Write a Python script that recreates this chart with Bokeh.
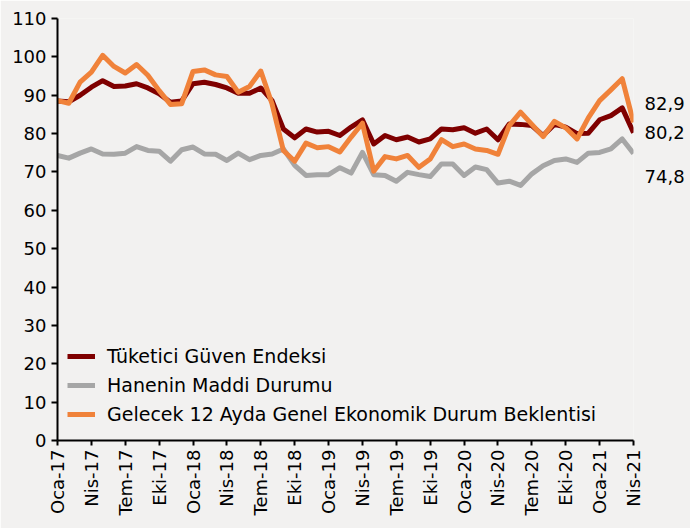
import math
from bokeh.plotting import figure
from bokeh.models import ColumnDataSource, FixedTicker, Range1d, Legend, LegendItem, LinearAxis
from bokeh.embed import file_html
from bokeh.resources import INLINE

months_tr = ["Oca", "Şub", "Mar", "Nis", "May", "Haz", "Tem", "Ağu", "Eyl", "Eki", "Kas", "Ara"]
periods = [f"{months_tr[i % 12]}-{17 + i // 12}" for i in range(52)]

tuketici = [88.5, 88.3, 90.0, 92.1, 93.8, 92.3, 92.4, 93.0, 91.9, 90.4, 88.2, 88.5,
            93.0, 93.4, 92.8, 91.9, 90.5, 90.5, 91.9, 88.6, 81.2, 78.9, 81.2, 80.4,
            80.6, 79.5, 81.7, 83.6, 77.3, 79.5, 78.4, 79.1, 77.8, 78.6, 81.2, 81.0,
            81.5, 80.1, 81.2, 78.4, 82.5, 82.4, 82.1, 79.5, 82.4, 81.7, 80.0, 80.1,
            83.6, 84.7, 86.7, 80.2]
hanenin = [74.3, 73.6, 74.9, 76.0, 74.7, 74.6, 74.9, 76.6, 75.6, 75.4, 72.8, 75.8,
           76.5, 74.7, 74.6, 73.0, 74.9, 73.2, 74.3, 74.7, 76.0, 71.7, 69.1, 69.3,
           69.3, 71.1, 69.7, 75.1, 69.3, 69.1, 67.6, 69.9, 69.3, 68.8, 72.1, 72.1,
           69.1, 71.3, 70.6, 67.1, 67.6, 66.5, 69.5, 71.6, 73.0, 73.4, 72.5, 74.9,
           75.1, 76.0, 78.6, 74.8]
gelecek = [88.6, 87.9, 93.4, 96.0, 100.4, 97.5, 95.8, 98.0, 95.2, 91.2, 87.6, 87.8,
           96.2, 96.6, 95.3, 94.9, 90.8, 92.3, 96.3, 87.7, 75.6, 72.8, 77.5, 76.3,
           76.6, 75.2, 79.1, 82.7, 70.2, 74.0, 73.4, 74.3, 71.2, 73.4, 78.4, 76.6,
           77.3, 76.0, 75.6, 74.6, 82.1, 85.6, 82.4, 79.2, 83.2, 81.5, 78.6, 84.1,
           88.6, 91.4, 94.3, 82.9]

series_names = ["Tüketici Güven Endeksi", "Hanenin Maddi Durumu",
                "Gelecek 12 Ayda Genel Ekonomik Durum Beklentisi"]
colors = ["#7F0000", "#A6A6A6", "#F0823A"]
y_ticks = list(range(0, 111, 10))

x = list(range(len(periods)))
src = ColumnDataSource(dict(x=x, t=tuketici, h=hanenin, g=gelecek))

BG = "#F2F1F0"
FONT = "DejaVu Sans"

p = figure(width=690, height=528, output_backend="svg", toolbar_location=None,
           x_range=Range1d(0, len(periods) - 1), y_range=Range1d(0, 110),
           min_border_left=57, min_border_right=57, min_border_top=18, min_border_bottom=88,
           background_fill_color=BG, border_fill_color=BG)
p.outline_line_color = None
p.grid.visible = False

r_t = p.line("x", "t", source=src, color=colors[0], line_width=5, line_join="round")
r_h = p.line("x", "h", source=src, color=colors[1], line_width=5, line_join="round")
r_g = p.line("x", "g", source=src, color=colors[2], line_width=5, line_join="round")

# axes
p.yaxis.ticker = FixedTicker(ticks=y_ticks)
p.yaxis.minor_tick_line_color = None
p.yaxis.major_tick_in = 0
p.yaxis.major_tick_out = 6
p.yaxis.axis_line_width = 2
p.yaxis.major_tick_line_width = 2
p.yaxis.major_label_text_font = FONT
p.yaxis.major_label_text_font_size = "18px"
p.yaxis.major_label_text_color = "black"
p.yaxis.major_label_standoff = 5

xt = list(range(0, len(periods), 3))
p.xaxis.ticker = FixedTicker(ticks=xt)
p.xaxis.major_label_overrides = {i: periods[i] for i in xt}
p.xaxis.minor_tick_line_color = None
p.xaxis.major_tick_in = 0
p.xaxis.major_tick_out = 5
p.xaxis.axis_line_width = 2
p.xaxis.major_tick_line_width = 2
p.xaxis.major_label_orientation = math.pi / 2
p.xaxis.major_label_text_font = FONT
p.xaxis.major_label_text_font_size = "18px"
p.xaxis.major_label_text_color = "black"
p.xaxis.major_label_standoff = 4

# end-of-series value labels, shown through a bare right-hand axis
shift = [5.0, 0.0, -6.0]
ends = [gelecek[-1], tuketici[-1], hanenin[-1]]
pos = [round(v + s, 1) for v, s in zip(ends, shift)]
raxis = LinearAxis(ticker=FixedTicker(ticks=pos),
                   major_label_overrides={ps: f"{v:.1f}".replace(".", ",") for ps, v in zip(pos, ends)},
                   axis_line_color=None, major_tick_line_color=None, minor_tick_line_color=None,
                   major_tick_in=0, major_tick_out=0, major_label_standoff=11,
                   major_label_text_font=FONT, major_label_text_font_size="18px",
                   major_label_text_color="black")
p.add_layout(raxis, "right")

legend = Legend(items=[LegendItem(label=series_names[0], renderers=[r_t]),
                       LegendItem(label=series_names[1], renderers=[r_h]),
                       LegendItem(label=series_names[2], renderers=[r_g])],
                location=(10, 15), margin=0, padding=0, spacing=7,
                glyph_width=28, glyph_height=20, label_height=20, label_standoff=12,
                label_text_font=FONT, label_text_font_size="19px", label_text_color="black",
                background_fill_alpha=0, border_line_color=None)
p.add_layout(legend)

open("out.html", "w").write(file_html(p, INLINE))
